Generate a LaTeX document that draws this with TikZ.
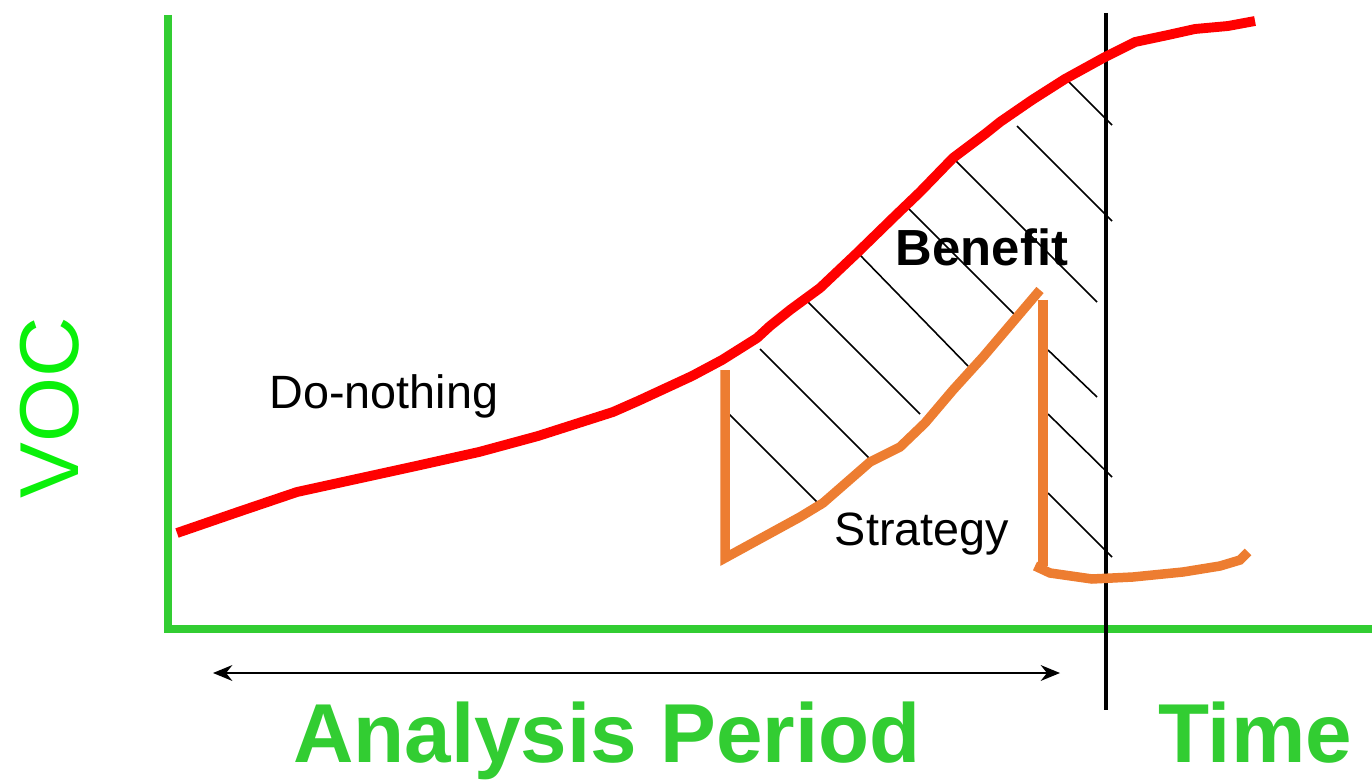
\documentclass[tikz,border=0pt]{standalone}
\usepackage{fontspec}
\setmainfont{Liberation Sans}
\usepackage{tikz}
\usetikzlibrary{positioning, calc}
\usetikzlibrary{arrows.meta}
\definecolor{axisgreen}{RGB}{50,205,50}
\definecolor{vocgreen}{RGB}{10,240,10}
\definecolor{stratorange}{RGB}{237,125,49}
\tikzstyle{axisline}=[axisgreen,line width=4.8pt]
\tikzstyle{redline}=[red,line width=5.6pt,line join=round]
\tikzstyle{orangeline}=[stratorange,line width=5.4pt]
\tikzstyle{hatchline}=[black,line width=0.9pt]
\tikzstyle{biglabel}=[font=\fontsize{47.6}{50}\selectfont\bfseries,text=axisgreen,inner sep=0pt]
\tikzstyle{smalllabel}=[font=\fontsize{26.6}{30}\selectfont,inner sep=0pt]

\begin{document}
\begin{tikzpicture}[x=0.02cm,y=-0.02cm]
        \useasboundingbox (0,0) rectangle (1372,780);

        % axes
        \draw[axisline] (168,15) -- (168,629) -- (1372,629);
        \draw[black,line width=2.3pt] (1106,13) -- (1106,710);

        % benefit hatching
        \foreach \xa/\ya/\xb/\yb in {728/413/823/508, 760/349/873/462, 808/302/920/414,
                858/253/968/366, 905/205/1017/317, 953/158/1097/302, 1017/126/1112/221,
                1065/78/1112/125, 1048/350/1097/397, 1048/414/1112/477, 1048/493/1112/557}
            \draw[hatchline] (\xa,\ya) -- (\xb,\yb);

        % do-nothing curve
        \draw[redline] (177,533) -- (238,512) -- (297,492) -- (416,466) -- (479,452)
            -- (538,436) -- (613,412) -- (638,401) -- (692,376) -- (722,360) -- (757,338)
            -- (770,326) -- (790,310) -- (820,288) -- (857,253) -- (895,216) -- (920,192)
            -- (953,158) -- (985,134) -- (1000,122) -- (1032,100) -- (1065,79) -- (1105,57)
            -- (1135,42) -- (1168,35) -- (1195,29) -- (1228,26) -- (1255,21);

        % strategy curve
        \draw[orangeline] (725,370) -- (725,558) -- (800,517) -- (823,503) -- (870,462)
            -- (900,447) -- (925,423) -- (953,390) -- (983,357) -- (1040,290);
        \draw[orangeline] (1043,300) -- (1043,566);
        \draw[orangeline] (1035,566) -- (1050,573) -- (1092,579) -- (1133,577)
            -- (1183,572) -- (1220,566) -- (1240,560) -- (1248,552);

        % labels
        \node[smalllabel, anchor=base] (donothing) at (384,408) {Do-nothing};
        \node[smalllabel, anchor=base] (strategy) at (922,545) {Strategy};
        \node[smalllabel, font=\fontsize{28.9}{32}\selectfont\bfseries, anchor=base] (benefit) at (982,266) {Benefit};
        \node[biglabel, font=\fontsize{47.6}{50}\selectfont, text=vocgreen, rotate=90, anchor=base] (voc) at (78,408) {VOC};
        \node[biglabel, anchor=base] (period) at (607,762) {Analysis Period};
        \node[biglabel, anchor=base] (time) at (1255,762) {Time};

        % analysis period arrow
        \coordinate (pstart) at (213,673);
        \coordinate (pend) at (1060,673);
        \draw[{Stealth[length=11pt,width=9pt]}-{Stealth[length=11pt,width=9pt]},line width=1.1pt] (pstart) -- (pend);
    \end{tikzpicture}
\end{document}
